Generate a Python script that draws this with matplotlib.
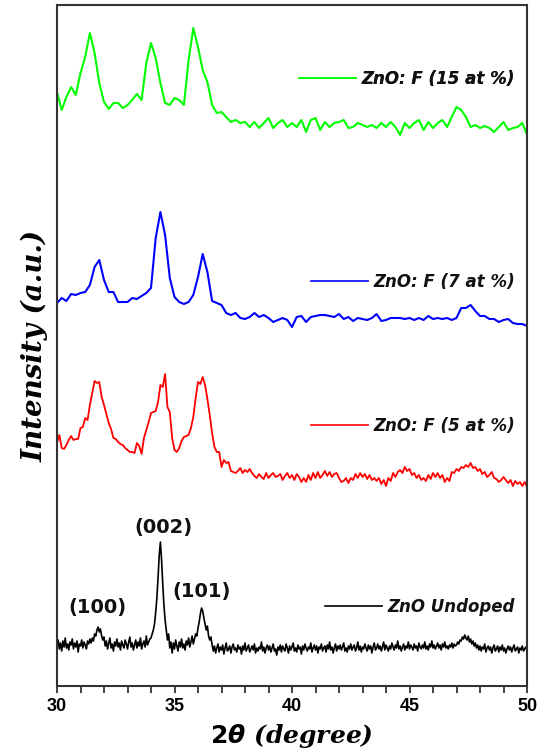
import numpy as np
import matplotlib
matplotlib.use("Agg")
import matplotlib.pyplot as plt

# XRD patterns (intensity in a.u., each trace from its own baseline)
# undoped: 0.05 deg step, 5 at %: 0.1 deg step, 7 and 15 at %: 0.2 deg step, all 30..50
undoped = [
    14, 20, 11, 17, 9, 19, 13, 22, 12, 16,
    10, 18, 15, 21, 11, 17, 13, 19, 8, 16,
    14, 20, 12, 18, 15, 11, 19, 16, 21, 17,
    22, 19, 26, 24, 30, 33, 28, 31, 24, 20, 23,
    14, 19, 11, 17, 22, 12, 16, 9, 18, 14,
    21, 13, 17, 10, 19, 15, 12, 20, 16, 11,
    18, 23, 13, 17, 10, 15, 20, 12, 18, 14,
    22, 11, 16, 19, 13, 24, 15, 18, 21,
    22, 26, 30, 36, 48, 62, 82, 105, 118, 100,
    76, 55, 40, 30, 20, 26, 12, 18, 7,
    17, 11, 20, 14, 9, 18, 13, 21, 12, 16,
    10, 19, 15, 22, 13, 18, 24, 16, 21,
    26, 24, 32, 38, 46, 52, 49, 42, 36, 30, 34, 24, 20, 23, 15,
    9, 14, 7, 12, 16, 8, 13, 10, 15, 6,
    12, 17, 9, 11, 14, 7, 13, 16, 10, 12,
    8, 15, 11, 13, 6, 14, 10, 17, 9, 12,
    15, 8, 11, 14, 10, 16, 7, 12, 9, 13,
    11, 18, 9, 13, 7, 12, 15, 10, 14, 8,
    12, 16, 9, 11, 5, 13, 10, 15, 8, 14,
    11, 9, 16, 12, 7, 14, 10, 13, 17, 9,
    12, 8, 15, 11, 13, 6, 14, 10, 16, 12,
    9, 13, 11, 17, 8, 12, 15, 10, 14, 7,
    13, 11, 16, 9, 12, 14, 8, 15, 11, 18,
    10, 13, 7, 12, 16, 9, 14, 11, 15, 10,
    13, 17, 9, 12, 8, 14, 11, 16, 10, 13,
    15, 9, 12, 18, 10, 14, 8, 13, 11, 16,
    12, 9, 15, 11, 14, 7, 13, 17, 10, 12,
    16, 11, 14, 9, 13, 18, 10, 15, 12, 9,
    14, 11, 17, 13, 10, 15, 12, 19, 11, 14,
    9, 13, 16, 10, 14, 12, 18, 11, 15, 13,
    10, 16, 12, 14, 9, 17, 13, 11, 15, 12,
    18, 11, 14, 10, 16, 13, 19, 12, 15, 11,
    14, 17, 12, 15, 10, 16, 13, 18, 12, 14,
    11, 15, 13, 17, 12, 16, 14,
    15, 18, 16, 20, 19, 23, 21, 25, 22, 20, 24, 18, 21, 16, 19, 14, 17,
    12, 15, 10, 14, 9, 13, 11, 16, 8, 12,
    14, 10, 13, 7, 12, 15, 9, 11, 14, 8,
    13, 10, 15, 9, 12, 7, 11, 14, 10, 13,
    8, 12, 15, 9, 11, 13, 7, 12, 10, 14,
    9, 11, 13, 10,
]

f5 = [
    45, 53, 40, 39, 43, 48, 52, 48, 49, 49,
    60, 61, 70, 68, 83, 95, 107, 105, 106, 91,
    83, 74, 65, 59, 50, 49, 46, 44, 43, 40,
    38, 36, 36, 35, 45, 42, 34, 50, 58, 66,
    75, 76, 77, 86, 103, 101, 114, 81, 76, 50,
    38, 36, 40, 47, 51, 52, 53, 60, 71, 90,
    106, 104, 111, 103, 89, 73, 55, 41, 36, 36,
    21, 28, 25, 26, 17, 16, 15, 17, 20, 15,
    18, 16, 19, 15, 12, 10, 14, 11, 9, 15,
    10, 13, 15, 11, 12, 14, 8, 12, 15, 10,
    13, 8, 14, 11, 6, 10, 6, 13, 8, 15,
    10, 16, 10, 13, 17, 12, 16, 11, 14, 15,
    10, 6, 7, 10, 5, 10, 8, 14, 10, 15,
    11, 14, 9, 13, 8, 10, 7, 10, 4, 8,
    2, 10, 7, 15, 11, 16, 18, 15, 21, 17,
    19, 13, 15, 10, 13, 8, 10, 7, 13, 9,
    15, 11, 15, 10, 13, 6, 10, 7, 16, 15,
    19, 17, 21, 20, 23, 21, 25, 20, 21, 17,
    19, 14, 16, 11, 13, 16, 10, 9, 6, 8,
    11, 8, 5, 8, 2, 7, 4, 6, 2, 6,
    1,
]

f7 = [
    24, 29, 26, 33, 32, 34, 35, 42, 60, 67,
    47, 35, 35, 25, 25, 25, 29, 28, 31, 34,
    39, 89, 115, 92, 49, 30, 25, 23, 25, 32,
    50, 73, 55, 26, 24, 22, 14, 12, 14, 9,
    8, 10, 14, 10, 12, 9, 5, 7, 9, 7,
    0, 10, 11, 5, 10, 11, 12, 12, 11, 10,
    13, 8, 10, 6, 9, 8, 7, 9, 13, 6,
    7, 9, 9, 9, 8, 9, 7, 9, 7, 11,
    8, 9, 8, 9, 7, 9, 19, 19, 22, 16,
    11, 11, 8, 8, 5, 7, 8, 4, 3, 3,
    1,
]

f15 = [
    43, 25, 38, 48, 40, 62, 78, 102, 82, 52,
    33, 26, 32, 32, 27, 30, 35, 41, 35, 72,
    92, 77, 52, 32, 30, 37, 35, 30, 75, 107,
    88, 65, 53, 30, 22, 23, 18, 13, 15, 12,
    13, 8, 13, 7, 12, 17, 7, 12, 15, 8,
    12, 8, 15, 3, 15, 17, 5, 13, 8, 12,
    13, 15, 7, 8, 12, 10, 8, 10, 7, 12,
    8, 13, 8, 0, 12, 7, 12, 15, 5, 13,
    7, 12, 15, 8, 18, 28, 25, 18, 8, 10,
    7, 9, 7, 3, 8, 13, 5, 7, 8, 12,
    0,
]

labels = ["ZnO Undoped", "ZnO: F (5 at %)", "ZnO: F (7 at %)", "ZnO: F (15 at %)"]
colors = ["#000000", "#ff0000", "#0000ff", "#00ff00"]
offsets = [26, 198, 359, 551]
label_y = [0.116, 0.382, 0.593, 0.891]   # vertical spot of each inline legend (axes fraction)

peak_names = ["(100)", "(002)", "(101)"]
peak_pos = [31.70, 34.51, 36.17]
peak_text_y = [79, 159, 94]

fig = plt.figure(figsize=(5.46, 7.49), dpi=100)
ax = fig.add_axes([57 / 546, 63 / 749, 470 / 546, 681 / 749])

handles = []
for y, c, off, lw in zip([undoped, f5, f7, f15], colors, offsets, [1.2, 1.3, 1.5, 1.5]):
    x = np.linspace(30, 50, len(y))
    h, = ax.plot(x, np.array(y) + off, color=c, lw=lw)
    handles.append(h)

leg_font = dict(family="DejaVu Sans", weight="bold", style="italic", size=12)
for h, lab, ly in zip(handles, labels, label_y):
    leg = ax.legend(handles=[h], labels=[lab], loc="center right",
                    bbox_to_anchor=(0.975, ly), frameon=False, borderpad=0,
                    borderaxespad=0, handlelength=3.4, handletextpad=0.35,
                    prop=leg_font)
    leg.get_lines()[0].set_linewidth(1.2)
    for t in leg.get_texts():
        t.set_color("#111111")
    ax.add_artist(leg)

for name, px, py in zip(peak_names, peak_pos, peak_text_y):
    ax.text(px, py, name, ha="center", va="center", fontsize=14,
            fontweight="bold", family="DejaVu Sans", color="#111111")

ax.set_xlim(30, 50)
ax.set_ylim(0, 681)
ax.set_yticks([])
ax.set_xticks([30, 35, 40, 45, 50])
ax.set_xticks(np.arange(30, 51, 1), minor=True)
ax.tick_params(axis="x", which="both", direction="out", length=5, width=1.2,
               colors="#222222")
for t in ax.get_xticklabels():
    t.set_fontsize(13)
    t.set_fontweight("bold")
    t.set_family(["Liberation Sans", "DejaVu Sans"])
    t.set_color("black")

for sp in ax.spines.values():
    sp.set_linewidth(1.5)
    sp.set_color("#333333")

ax.set_xlabel(r"$\mathbf{2}\boldsymbol{\theta}$ (degree)", fontsize=18,
              fontweight="bold", style="italic", family="DejaVu Serif", labelpad=5)
ax.set_ylabel("Intensity (a.u.)", fontsize=20, fontweight="bold",
              style="italic", family="DejaVu Serif", labelpad=6)

fig.savefig("out.png", dpi=100)
